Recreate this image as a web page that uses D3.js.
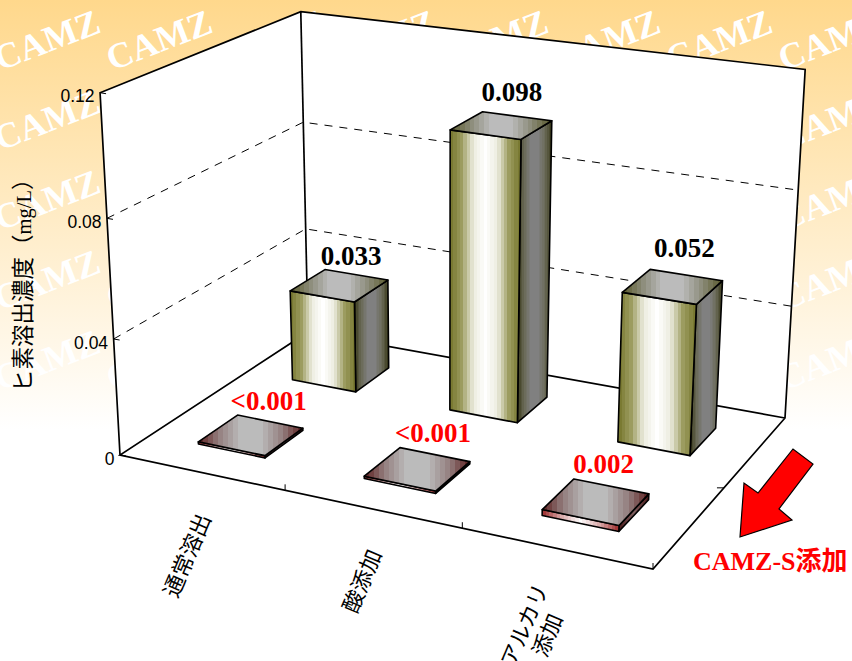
<!DOCTYPE html>
<html><head><meta charset="utf-8">
<script src="https://cdn.jsdelivr.net/npm/d3@7"></script>
<style>html,body{margin:0;padding:0;background:#fff;overflow:hidden}svg{display:block}</style>
</head><body><svg id="c" width="852" height="661"></svg>
<script>
const categories = ["通常溶出", "酸添加", "アルカリ\n添加"];
const baseValues = [0.033, 0.098, 0.052];
const camzValues = [0.0008, 0.0008, 0.002];
const baseLabels = ["0.033", "0.098", "0.052"];
const camzLabels = ["<0.001", "<0.001", "0.002"];
const tickValues = [0, 0.04, 0.08, 0.12];
const tickLabels = ["0", "0.04", "0.08", "0.12"];
const yTitleParts = ["ヒ素溶出濃度（", "mg/L", "）"];
const arrowLabel = "CAMZ-S添加";
const watermark = "CAMZ";

// ---- layout (not data)
const W = 852, H = 661;
const floorCorners = [[0,0,120,455],[1,0,653,569],[0,1,308,332],[1,1,785,418]];
const topCorners = [[0,0,100,94],[0,1,301,11],[1,1,805,69]];
const SERIF = '"Liberation Serif","Noto Sans CJK JP",serif';
const SANS = '"Liberation Sans","Noto Sans CJK JP",sans-serif';
const CJK = '"Noto Sans CJK JP",sans-serif';

function solve(A, b){
  const n = b.length, M = A.map((r,i)=>[...r,b[i]]);
  for(let i=0;i<n;i++){
    let p=i; for(let k=i+1;k<n;k++) if(Math.abs(M[k][i])>Math.abs(M[p][i])) p=k;
    [M[i],M[p]]=[M[p],M[i]];
    for(let k=0;k<n;k++) if(k!==i){const f=M[k][i]/M[i][i]; for(let j=i;j<=n;j++) M[k][j]-=f*M[i][j];}
  }
  return M.map((r,i)=>r[n]/r[i]);
}
const A8=[],b8=[];
floorCorners.forEach(([u,w,x,y])=>{
  A8.push([u,w,1,0,0,0,-x*u,-x*w]); b8.push(x);
  A8.push([0,0,0,u,w,1,-y*u,-y*w]); b8.push(y);
});
const h = solve(A8,b8);
const rows=[],rhs=[];
topCorners.forEach(([u,w,x,y])=>{
  const D=h[6]*u+h[7]*w+1, Nx=h[0]*u+h[1]*w+h[2], Ny=h[3]*u+h[4]*w+h[5];
  rows.push([1,0,-x]); rhs.push(x*D-Nx);
  rows.push([0,1,-y]); rhs.push(y*D-Ny);
});
const AtA=[0,1,2].map(i=>[0,1,2].map(j=>d3.sum(rows,r=>r[i]*r[j])));
const Atb=[0,1,2].map(i=>d3.sum(rows,(r,k)=>r[i]*rhs[k]));
const [va,vb,vc]=solve(AtA,Atb);
function project(u,v,w){
  const D=h[6]*u+h[7]*w+1+vc*v;
  return [(h[0]*u+h[1]*w+h[2]+va*v)/D,(h[3]*u+h[4]*w+h[5]+vb*v)/D];
}

const vScale=d3.scaleLinear().domain([0,0.12]).range([0,1]);
const uBand=d3.scaleBand().domain(categories).range([0,1]).paddingInner(0.59).paddingOuter(0.295);
const wBand=d3.scaleBand().domain(["CAMZ","base"]).range([0,1]).paddingInner(0.6).paddingOuter(0.3);
const line=d3.line();
const poly=pts=>line(pts)+"Z";

const svg=d3.select("#c");
const defs=svg.append("defs");
const bg=defs.append("linearGradient").attr("id","bg").attr("x1",0).attr("x2",0).attr("y1",0).attr("y2",1);
bg.append("stop").attr("offset",0).attr("stop-color","#ffd88c");
bg.append("stop").attr("offset",0.65).attr("stop-color","#ffffff");
svg.append("rect").attr("width",W).attr("height",H).attr("fill","url(#bg)");

// watermarks
const wm=svg.append("g").attr("fill","#fff").attr("font-family",SERIF).attr("font-weight","bold").attr("font-size",36);
d3.range(5).forEach(r=>d3.range(8).forEach(c=>{
  const x=112*c, y=71+80*r;
  wm.append("text").attr("transform",`translate(${x},${y}) rotate(-21)`).text(watermark);
}));

// walls and floor
const wall=svg.append("g").attr("fill","#fff");
wall.append("path").attr("d",poly([project(0,0,0),project(0,1,0),project(0,1,1),project(0,0,1)]));
wall.append("path").attr("d",poly([project(0,0,1),project(0,1,1),project(1,1,1),project(1,0,1)]));
wall.append("path").attr("d",poly([project(0,0,0),project(0,0,1),project(1,0,1),project(1,0,0)]));

// gridlines
const grid=svg.append("g").attr("fill","none").attr("stroke","#000").attr("stroke-width",1).attr("stroke-dasharray","8,7");
tickValues.filter(t=>t>0&&t<0.12).forEach(t=>{
  const v=vScale(t);
  grid.append("path").attr("d",line([project(0,v,0),project(0,v,1),project(1,v,1)]));
});

// frame
const frame=svg.append("g").attr("fill","none").attr("stroke","#000").attr("stroke-width",1.7).attr("stroke-linejoin","miter");
[[[0,0,0],[0,1,0],[0,1,1],[1,1,1],[1,0,1],[1,0,0],[0,0,0],[0,0,1],[1,0,1]],[[0,1,1],[0,0,1]]].forEach(ch=>{
  frame.append("path").attr("d",line(ch.map(p=>project(...p))));
});

// ticks
const ticks=svg.append("g").attr("stroke","#000").attr("stroke-width",1).attr("fill","none");
tickValues.forEach(t=>{
  const v=vScale(t),p=project(0,v,0);
  ticks.append("line").attr("x1",p[0]).attr("y1",p[1]).attr("x2",p[0]+6).attr("y2",p[1]+1);
});
d3.range(1,4).forEach(i=>{
  const p=project(i/3,0,0);
  ticks.append("line").attr("x1",p[0]).attr("y1",p[1]).attr("x2",p[0]).attr("y2",p[1]-6);
});
{const p=project(1,0,0.5);
 ticks.append("line").attr("x1",p[0]).attr("y1",p[1]).attr("x2",p[0]-7).attr("y2",p[1]);}

// gradients
let gid=0;
function bands(stops,x0,x1){
  const id="g"+(gid++), n=21;
  const g=defs.append("linearGradient").attr("id",id).attr("gradientUnits","userSpaceOnUse")
    .attr("x1",x0).attr("x2",x1).attr("y1",0).attr("y2",0);
  const ramp=d3.piecewise(d3.interpolateRgb,stops);
  d3.range(n).forEach(i=>{
    const c=ramp((i+.5)/n);
    g.append("stop").attr("offset",i/n).attr("stop-color",c);
    g.append("stop").attr("offset",(i+1)/n).attr("stop-color",c);
  });
  return `url(#${id})`;
}
const palettes={
  base:{front:["#74742a","#9c9c60","#ecece0","#ffffff","#ecece0","#9c9c60","#74742a"],
        side:["#383818","#6a6a58","#808080","#808080","#6a6a58","#383818"],
        top:["#5a5a2c","#8a8a78","#bbbbbb","#bbbbbb","#8a8a78","#5a5a2c"]},
  camz:{front:["#9c2c2c","#d8a8a8","#ffffff","#d8a8a8","#9c2c2c"],
        side:["#4a1818","#806060","#4a1818"],
        top:["#5c1e1e","#948080","#bbbbbb","#bbbbbb","#948080","#5c1e1e"]}
};

function drawBar(g,cat,value,row,pal){
  const u0=uBand(cat),u1=u0+uBand.bandwidth(),w0=wBand(row),w1=w0+wBand.bandwidth(),v=vScale(value);
  const faces={
    side:[project(u1,0,w0),project(u1,v,w0),project(u1,v,w1),project(u1,0,w1)],
    front:[project(u0,0,w0),project(u0,v,w0),project(u1,v,w0),project(u1,0,w0)],
    top:[project(u0,v,w0),project(u0,v,w1),project(u1,v,w1),project(u1,v,w0)]
  };
  ["side","front","top"].forEach(k=>{
    const xs=d3.extent(faces[k],p=>p[0]);
    g.append("path").attr("d",poly(faces[k])).attr("fill",bands(pal[k],xs[0],xs[1]))
      .attr("stroke","#000").attr("stroke-width",1.6).attr("stroke-linejoin","round");
  });
  return faces.top;
}
const barsG=svg.append("g");
const labelG=svg.append("g").attr("font-family",SERIF).attr("font-weight","bold").attr("font-size",27).attr("text-anchor","middle");
const baseTops=categories.map((c,i)=>drawBar(barsG,c,baseValues[i],"base",palettes.base));
const camzTops=categories.map((c,i)=>drawBar(barsG,c,camzValues[i],"CAMZ",palettes.camz));
const labelDx=[12,11,12], labelDy=[-5,-11,-12], labelDxC=[18,16,8], labelDyC=[-5,-6,-6];
function addLabel(top,txt,dx,dy,color){
  const cx=(d3.min(top,p=>p[0])+d3.max(top,p=>p[0]))/2, ty=d3.min(top,p=>p[1]);
  labelG.append("text").attr("x",cx+dx).attr("y",ty+dy).attr("fill",color).text(txt);
}
baseTops.forEach((t,i)=>addLabel(t,baseLabels[i],labelDx[i],labelDy[i],"#000"));
camzTops.forEach((t,i)=>addLabel(t,camzLabels[i],labelDxC[i],labelDyC[i],"#f00"));

// value axis labels
const yl=svg.append("g").attr("font-family",SANS).attr("font-size",17.5).attr("text-anchor","end").attr("fill","#000");
tickValues.forEach((t,i)=>{
  const p=project(0,vScale(t),0);
  yl.append("text").attr("x",p[0]-5.5).attr("y",p[1]+9.5).text(tickLabels[i]);
});
const yT=svg.append("text").attr("transform","translate(31,392) rotate(-90)")
  .attr("font-family",CJK).attr("font-size",22.5).attr("fill","#000");
yTitleParts.forEach(s=>{
  const t=yT.append("tspan").text(s);
  if(s==="mg/L") t.attr("font-family",SERIF).attr("font-size",20.5);
});

// category labels
const catG=svg.append("g").attr("font-family",CJK).attr("font-size",22).attr("text-anchor","middle").attr("fill","#000");
const catDx=[-14,-10,-20], catDy=[83,72,82];
categories.forEach((c,i)=>{
  const p=project((i+.5)/3,0,0);
  const t=catG.append("g").attr("transform",`translate(${p[0]+catDx[i]},${p[1]+catDy[i]}) rotate(-67)`);
  const ls=c.split("\n");
  ls.forEach((s,k)=>t.append("text").attr("x",0).attr("y",8+(k-(ls.length-1)/2)*25).text(s));
});

// arrow
const arrowShape=[[740,537],[744,483],[758,493],[793,449],[813,464],[779,509],[792,520]];
svg.append("path").attr("d",poly(arrowShape)).attr("fill","#f00").attr("stroke","#000").attr("stroke-width",1.2);
svg.append("text").attr("x",693).attr("y",570).attr("font-family",SERIF).attr("font-weight","bold")
  .attr("font-size",26).attr("fill","#f00").text(arrowLabel);
</script></body></html>
